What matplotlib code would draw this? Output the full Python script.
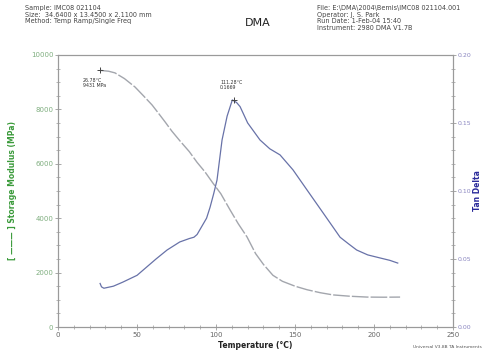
import matplotlib
matplotlib.use("Agg")
import matplotlib.pyplot as plt
from matplotlib.ticker import MultipleLocator, FormatStrFormatter

# Storage modulus (MPa) vs temperature (°C)
sm_temp = [26.8, 32, 36, 42, 48.7, 54, 59.5, 63.5, 67.7, 72, 77, 83, 88, 93, 98, 103, 108.9, 114, 119.6, 125, 130, 136, 142, 150, 157.6, 166, 174, 185, 195.6, 206, 216.5]
sm_val = [9431, 9400, 9340, 9130, 8820, 8500, 8160, 7860, 7540, 7200, 6850, 6450, 6050, 5700, 5290, 4900, 4300, 3800, 3310, 2700, 2300, 1900, 1680, 1500, 1370, 1260, 1180, 1130, 1100, 1095, 1100]

# Tan delta vs temperature (°C)
td_temp = [26.6, 27.5, 29, 35, 41, 50, 56, 62, 69, 77, 83, 86, 88, 91, 94, 96.2, 98.5, 100.6, 103.8, 107, 110.3, 113, 115.2, 120, 127.8, 134, 140.5, 148.7, 157.6, 167.8, 174, 178.5, 184, 189, 196, 204, 210, 215]
td_val = [0.032, 0.0295, 0.0285, 0.030, 0.033, 0.038, 0.044, 0.050, 0.0566, 0.0625, 0.065, 0.066, 0.068, 0.074, 0.080, 0.088, 0.098, 0.108, 0.1375, 0.155, 0.1669, 0.165, 0.162, 0.150, 0.1375, 0.131, 0.1265, 0.1155, 0.1007, 0.0838, 0.0735, 0.066, 0.061, 0.0566, 0.053, 0.0507, 0.049, 0.047]

sm_mark = (26.78, 9431)
td_mark = (111.28, 0.1669)

fig = plt.figure(figsize=(4.84, 3.52), dpi=100)
ax = fig.add_axes([0.120, 0.071, 0.816, 0.773])
ax2 = ax.twinx()

grey = '#a3a6ad'
blue = '#6872a8'
spine_c = '#9a9a9a'

ax.plot(sm_temp, sm_val, color=grey, lw=1.0, dashes=(12, 1.5))
ax.plot([sm_mark[0]], [sm_mark[1]], marker='+', color='#444444', ms=5, mew=0.7)
ax.text(15.8, 9150, "26.78°C\n9431 MPa", fontsize=3.4, va='top', ha='left', color='#333333', linespacing=1.1)

ax2.plot(td_temp, td_val, color=blue, lw=0.9)
ax2.plot([td_mark[0]], [td_mark[1]], marker='+', color='#444444', ms=5, mew=0.7)
ax2.text(102.5, 0.1816, "111.28°C\n0.1669", fontsize=3.4, va='top', ha='left', color='#333333', linespacing=1.1)

ax.set_xlim(0, 250)
ax.set_ylim(0, 10000)
ax2.set_ylim(0, 0.20)

ax.xaxis.set_major_locator(MultipleLocator(50))
ax.xaxis.set_minor_locator(MultipleLocator(10))
ax.yaxis.set_major_locator(MultipleLocator(2000))
ax.yaxis.set_minor_locator(MultipleLocator(500))
ax2.yaxis.set_major_locator(MultipleLocator(0.05))
ax2.yaxis.set_minor_locator(MultipleLocator(0.01))
ax2.yaxis.set_major_formatter(FormatStrFormatter('%.2f'))

for a in (ax, ax2):
    for s in a.spines.values():
        s.set_color(spine_c)
        s.set_linewidth(0.8)

ax.tick_params(axis='both', which='major', direction='inout', length=4, width=0.6, color=spine_c, labelsize=5, pad=1.5)
ax.tick_params(axis='both', which='minor', direction='inout', length=2.5, width=0.5, color=spine_c)
ax.tick_params(axis='x', labelcolor='#666666')
ax.tick_params(axis='y', labelcolor='#7fae7f')
ax2.tick_params(axis='y', which='major', direction='inout', length=4, width=0.6, color=spine_c, labelsize=4.5, labelcolor='#8a86c0', pad=1.2)
ax2.tick_params(axis='y', which='minor', direction='inout', length=2.5, width=0.5, color=spine_c)

ax.set_xlabel("Temperature (°C)", fontsize=5.5, fontweight='bold', color='#222222', labelpad=2)
ax.set_ylabel("[ ——— ] Storage Modulus (MPa)", fontsize=5.5, fontweight='bold', color='#3a9a3a', labelpad=10)
ax2.set_ylabel("Tan Delta", fontsize=5.5, fontweight='bold', color='#2a2a9a', labelpad=1.5)

# Header texts
fig.text(0.052, 0.985, "Sample: IMC08 021104\nSize:  34.6400 x 13.4500 x 2.1100 mm\nMethod: Temp Ramp/Single Freq",
         fontsize=4.7, va='top', ha='left', color='#444444', linespacing=1.1)
fig.text(0.533, 0.935, "DMA", fontsize=8, va='center', ha='center', color='#222222')
fig.text(0.655, 0.985, "File: E:\\DMA\\2004\\Bemis\\IMC08 021104.001\nOperator: J. S. Park\nRun Date: 1-Feb-04 15:40\nInstrument: 2980 DMA V1.7B",
         fontsize=4.7, va='top', ha='left', color='#444444', linespacing=1.1)
fig.text(0.995, 0.008, "Universal V3.8B TA Instruments", fontsize=3.2, va='bottom', ha='right', color='#555555')

fig.savefig("out.png", dpi=100)
